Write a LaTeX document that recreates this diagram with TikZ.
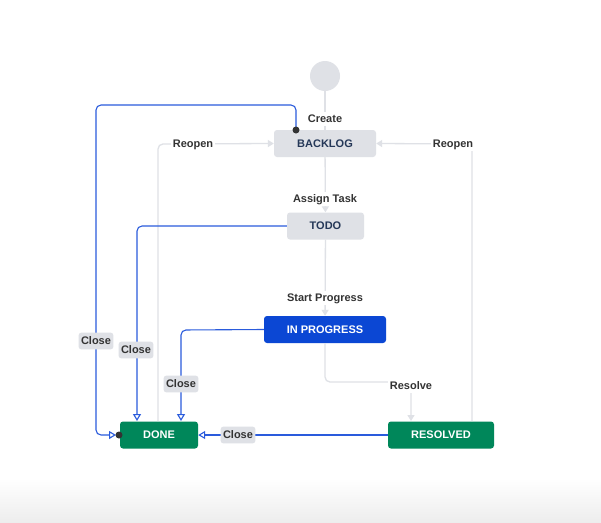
\documentclass[tikz,border=0pt]{standalone}
\usepackage{fontspec}
\setmainfont{Liberation Sans}
\usetikzlibrary{arrows.meta}
\definecolor{nodegray}{HTML}{DFE1E6}
\definecolor{navytext}{HTML}{253858}
\definecolor{progblue}{HTML}{0B47D4}
\definecolor{donegreen}{HTML}{00875A}
\definecolor{closeblue}{HTML}{2A5BDC}
\definecolor{labeltext}{HTML}{333333}
\definecolor{linegray}{HTML}{DFE1E6}
\tikzset{
  capfont/.style={font=\bfseries\fontsize{11pt}{13pt}\selectfont, text height=7.9pt, text depth=0pt},
  statebox/.style={rectangle, rounded corners=3pt, minimum height=27pt, inner sep=0pt, capfont},
  graystate/.style={statebox, fill=nodegray, text=navytext},
  bluestate/.style={statebox, fill=progblue, text=white},
  greenstate/.style={statebox, fill=donegreen, text=white},
  translabel/.style={fill=white, text=labeltext, inner xsep=2pt, inner ysep=3pt, capfont},
  closelabel/.style={fill=nodegray, text=labeltext, rounded corners=3pt, inner xsep=2.5pt, inner ysep=4.5pt, capfont},
  grayline/.style={draw=linegray, line width=1.3pt, rounded corners=5pt},
  grayarrow/.style={grayline, -{Triangle[width=7pt,length=6pt]}},
  blueline/.style={draw=closeblue, line width=1.1pt, rounded corners=5pt, -{Triangle[open,width=8pt,length=7pt]}},
  enddot/.style={circle, fill=black!80, inner sep=0pt, minimum size=7pt},
}
\begin{document}
\begin{tikzpicture}[x=1pt,y=-1pt]
\useasboundingbox (0,0) rectangle (601,522);
\fill[white] (0,0) rectangle (601,522);
\shade[top color=white, bottom color=black!7] (0,478) rectangle (601,522);

% states
\node[circle, fill=nodegray, minimum size=30pt, inner sep=0pt] (start) at (325,76) {};
\node[graystate, minimum width=102pt] (backlog) at (325,143.5) {BACKLOG};
\node[graystate, minimum width=77pt] (todo) at (325.5,226) {TODO};
\node[bluestate, minimum width=122pt] (inprog) at (325,329.5) {IN PROGRESS};
\node[greenstate, minimum width=78pt] (done) at (159,435) {DONE};
\node[greenstate, minimum width=106pt] (resolved) at (441,435) {RESOLVED};

% bend coordinates
\coordinate (rb) at (325,382);
\coordinate (rc) at (411,382);
\coordinate (rt) at (411,421);
\coordinate (reR1) at (472,421);
\coordinate (reR2) at (472,144);
\coordinate (reL1) at (158,421);
\coordinate (reL2) at (158,144);
\coordinate (c1s) at (296,130);
\coordinate (c1a) at (296,105);
\coordinate (c1b) at (96,105);
\coordinate (c1c) at (96,435);
\coordinate (c1e) at (116,435);
\coordinate (c2a) at (137,226);
\coordinate (c2e) at (137,421);
\coordinate (c3a) at (181,330);
\coordinate (c3e) at (181,421);

% gray transitions
\draw[grayline] (start) -- (backlog);
\draw[grayarrow] (backlog) -- (todo);
\draw[grayarrow] (todo) -- (inprog);
\draw[grayarrow] (inprog.south -| rb) -- (rb) -- (rc) -- (rt);
\draw[grayarrow] (reR1) -- (reR2) -- (backlog.east);
\draw[grayarrow] (reL1) -- (reL2) -- (backlog.west);

% blue close transitions
\draw[blueline] (c1s) -- (c1a) -- (c1b) -- (c1c) -- (c1e);
\draw[blueline] (todo.west) -- (c2a) -- (c2e);
\draw[blueline] (inprog.west) -- (c3a) -- (c3e);
\draw[blueline] (resolved.west) -- (done.east);
\node[enddot] (dot1) at (c1s) {};
\node[enddot] (dot2) at (119,435) {};

% labels
\node[translabel] (lcreate) at (325,119) {Create};
\node[translabel] (lassign) at (325,199) {Assign Task};
\node[translabel] (lstart) at (325,298) {Start Progress};
\node[translabel] (lresolve) at (411,386) {Resolve};
\node[translabel] (lreopenR) at (453,144) {Reopen};
\node[translabel] (lreopenL) at (193,144) {Reopen};
\node[closelabel] (lclose1) at (96,341) {Close};
\node[closelabel] (lclose2) at (136,350) {Close};
\node[closelabel] (lclose3) at (181,384) {Close};
\node[closelabel] (lclose4) at (238,435) {Close};
\end{tikzpicture}
\end{document}
